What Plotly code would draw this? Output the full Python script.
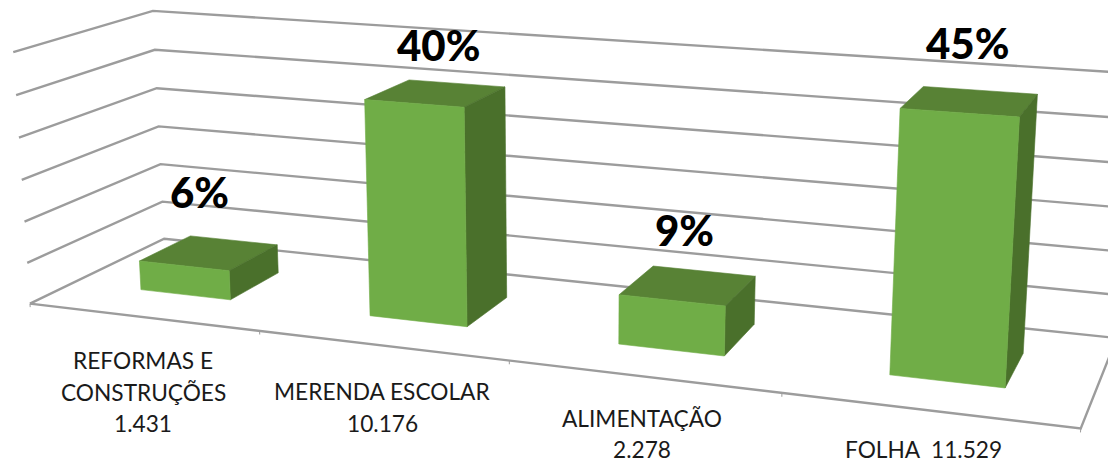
import numpy as np
import plotly.graph_objects as go

# ---- data ----
categories = ["REFORMAS E CONSTRUÇÕES", "MERENDA ESCOLAR", "ALIMENTAÇÃO", "FOLHA"]
values = [1431, 10176, 2278, 11529]
value_labels = ["1.431", "10.176", "2.278", "11.529"]
percent_labels = ["6%", "40%", "9%", "45%"]
grid_values = [0, 2000, 4000, 6000, 8000, 10000, 12000]

# ---- style ----
FRONT, TOP, SIDE = "#70AD47", "#588235", "#4A702B"
GRID = "#9C9C9C"
FONT = "Lato"

# perspective camera of the 3-D chart: (category, depth, value / 2000) -> page
CAM = np.array([[219.149, 152.145, -2.85, 29.9697],
                [13.9149, -38.8921, -42.1665, 303.671],
                [-0.0402907, 0.10914, -0.00495428, 1.0]])
BAR_X0, BAR_X1 = 0.305, 0.705  # bar extent inside a category
BAR_Y0, BAR_Y1 = 0.31, 0.705   # bar extent across the depth axis


def proj(pts):
    out = [CAM @ np.array([x, y, v / 2000.0, 1.0]) for x, y, v in pts]
    return [p[0] / p[2] for p in out], [p[1] / p[2] for p in out]


fig = go.Figure()


def line(pts, width=2.4, color=GRID):
    xs, ys = proj(pts)
    fig.add_trace(go.Scatter(x=xs, y=ys, mode="lines", line=dict(color=color, width=width),
                             hoverinfo="skip", showlegend=False))


def face(pts, color, name, val):
    xs, ys = proj(pts + pts[:1])
    fig.add_trace(go.Scatter(x=xs, y=ys, mode="lines", fill="toself", fillcolor=color,
                             line=dict(color=color, width=0.6), name=name,
                             hovertemplate=f"{name}: {val}<extra></extra>", showlegend=False))


n = len(categories)
# walls and floor
for g in grid_values:
    line([(0, 0, g), (0, 1, g), (n, 1, g)])
line([(0, 0, 0), (n, 0, 0), (n, 1, 0)])
for i in range(n + 1):
    line([(i, 0, 0), (i, 0, -170)], width=1.0)

# bars
for i, (cat, v) in enumerate(zip(categories, values)):
    x0, x1, y0, y1 = i + BAR_X0, i + BAR_X1, BAR_Y0, BAR_Y1
    face([(x0, y0, v), (x1, y0, v), (x1, y1, v), (x0, y1, v)], TOP, cat, v)
    face([(x1, y0, 0), (x1, y1, 0), (x1, y1, v), (x1, y0, v)], SIDE, cat, v)
    face([(x0, y0, 0), (x1, y0, 0), (x1, y0, v), (x0, y0, v)], FRONT, cat, v)

# percentage labels
PCT_POS = [(199, 192), (438, 45), (684, 230), (967, 43)]
for txt, (px, py) in zip(percent_labels, PCT_POS):
    fig.add_annotation(x=px, y=py, text=txt, showarrow=False,
                       font=dict(family=FONT, size=42, color="#000000", weight=900))

# category labels, one annotation per line
LABEL_LINES = [
    [("REFORMAS E", 143, 360), ("CONSTRUÇÕES", 143, 392), (value_labels[0], 143, 423)],
    [(categories[1], 382, 391), (value_labels[1], 382, 423)],
    [(categories[2], 642, 418), (value_labels[2], 642, 449)],
    [(f"{categories[3]}  {value_labels[3]}", 923, 449)],
]
for group in LABEL_LINES:
    for txt, px, py in group:
        fig.add_annotation(x=px, y=py, text=txt, showarrow=False,
                           font=dict(family=FONT, size=22.7, color="#1A1A1A"))

# the page keeps an 8 px body margin, so the plot covers page pixels 8..1116 and 8..462
fig.update_xaxes(range=[8, 1116], visible=False, fixedrange=True)
fig.update_yaxes(range=[462, 8], visible=False, fixedrange=True)
fig.update_layout(width=1108, height=454, margin=dict(l=0, r=0, t=0, b=0),
                  plot_bgcolor="white", paper_bgcolor="white", showlegend=False)
fig.write_html("out.html")
